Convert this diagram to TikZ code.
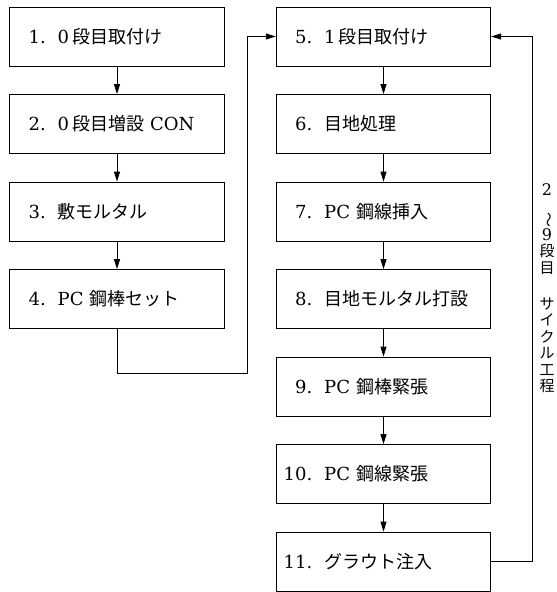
\documentclass[tikz,border=0pt]{standalone}
\usepackage{fontspec}
\usepackage{graphicx}
\setmainfont{DejaVu Serif}
\newfontfamily\cjk{Noto Sans CJK JP}
\usetikzlibrary{arrows.meta}
\newcommand\J[1]{{\fontsize{18}{22}\cjk #1}}
\newcommand\Js[1]{{\fontsize{15}{16.5}\cjk #1}}
\newcommand\stp[2]{\makebox[36pt][r]{#1}\hspace{12pt}#2}
\begin{document}
\begin{tikzpicture}[x=1pt,y=-1pt,
  box/.style={draw, line width=0.8pt, text width=214.5pt, minimum height=59pt,
    inner xsep=0pt, inner ysep=0pt, align=left, font=\fontsize{18}{22}\selectfont},
  arr/.style={line width=0.8pt, -{Triangle[length=10pt,width=6pt]}},
  vlab/.style={align=center, inner sep=0pt, font=\fontsize{16}{16.5}\selectfont}
  ]
\path[use as bounding box] (0,0) rectangle (557,592);
% left column
\node[box] (b1) at (117,36.5)  {\stp{1.}{0\,\J{段目取付け}}};
\node[box] (b2) at (117,124)   {\stp{2.}{0\,\J{段目増設} CON}};
\node[box] (b3) at (117,211.5) {\stp{3.}{\J{敷モルタル}}};
\node[box] (b4) at (117,299)   {\stp{4.}{PC \J{鋼棒セット}}};
% right column
\node[box] (b5)  at (383.5,36.5)  {\stp{5.}{1\,\J{段目取付け}}};
\node[box] (b6)  at (383.5,124)   {\stp{6.}{\J{目地処理}}};
\node[box] (b7)  at (383.5,211.5) {\stp{7.}{PC \J{鋼線挿入}}};
\node[box] (b8)  at (383.5,299)   {\stp{8.}{\J{目地モルタル打設}}};
\node[box] (b9)  at (383.5,386.5) {\stp{9.}{PC \J{鋼棒緊張}}};
\node[box] (b10) at (383.5,474)   {\stp{10.}{PC \J{鋼線緊張}}};
\node[box] (b11) at (383.5,561.5) {\stp{11.}{\J{グラウト注入}}};
% arrows
\draw[arr] (b1) -- (b2);
\draw[arr] (b2) -- (b3);
\draw[arr] (b3) -- (b4);
\draw[arr] (b5) -- (b6);
\draw[arr] (b6) -- (b7);
\draw[arr] (b7) -- (b8);
\draw[arr] (b8) -- (b9);
\draw[arr] (b9) -- (b10);
\draw[arr] (b10) -- (b11);
\coordinate (k1) at (247,373);
\draw[arr] (b4.south) |- (k1) |- (b5.west);
\coordinate (k2) at (532,561.5);
\draw[arr] (b11.east) -- (k2) |- (b5.east);
% vertical label
\node[vlab] (v1) at (547,229) {2\\\rotatebox{-90}{\Js{～}}\\9\\\Js{段}\\\Js{目}};
\node[vlab] (v2) at (547,345) {\Js{サ}\\\Js{イ}\\\Js{ク}\\\Js{ル}\\\Js{工}\\\Js{程}};
\end{tikzpicture}
\end{document}
